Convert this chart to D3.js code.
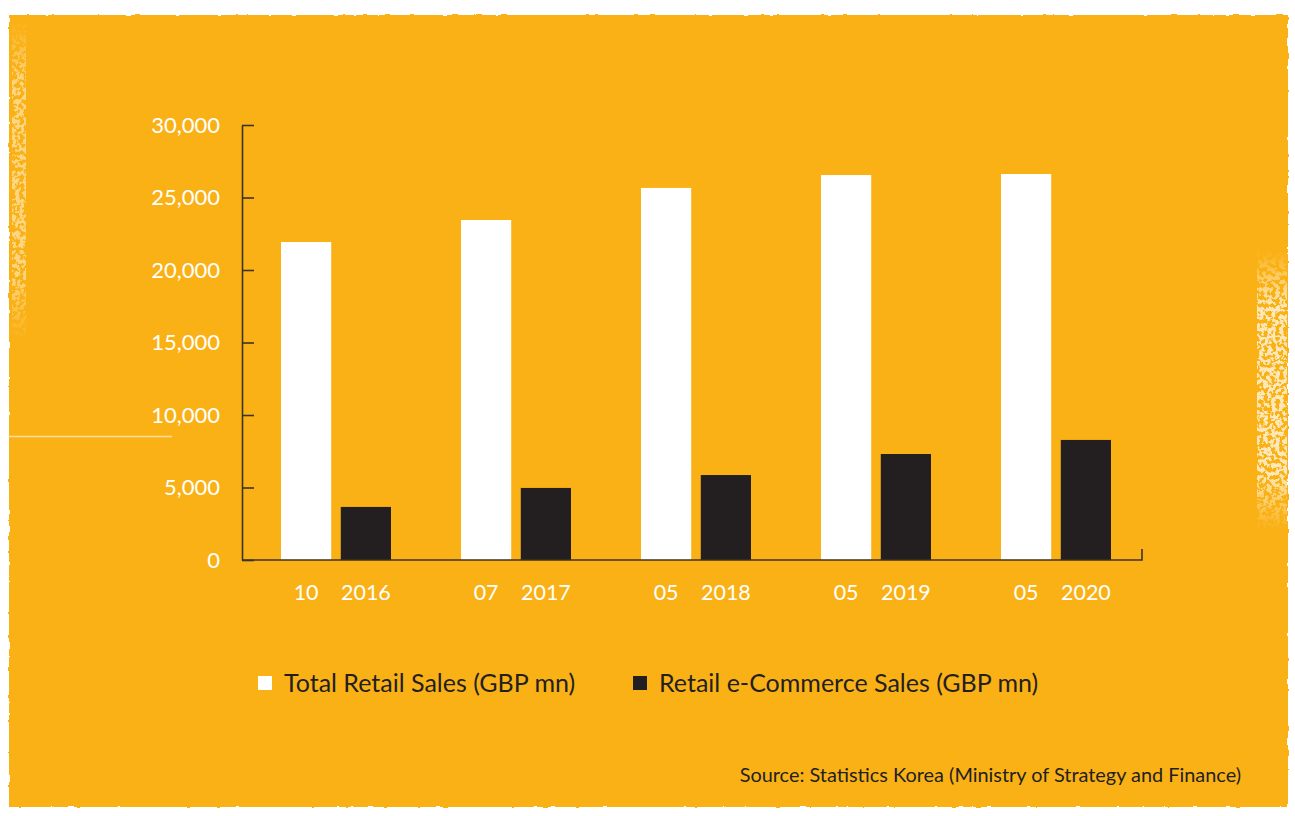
<!DOCTYPE html>
<html>
<head>
<meta charset="utf-8">
<script src="https://cdn.jsdelivr.net/npm/d3@7"></script>
<style>
  html, body { margin: 0; padding: 0; background: #ffffff; }
  svg { display: block; }
  text { font-family: Lato, "Open Sans", sans-serif; }
</style>
</head>
<body>
<svg id="chart" width="1295" height="816"></svg>
<script>
// Monthly retail sales, GBP million
const years = ["2016", "2017", "2018", "2019", "2020"];
const months = ["10", "07", "05", "05", "05"];
const totalRetail = [21930, 23450, 25660, 26550, 26620];
const eCommerce = [3660, 4970, 5860, 7310, 8280];
const yTicks = [0, 5000, 10000, 15000, 20000, 25000, 30000];
const seriesNames = ["Total Retail Sales (GBP mn)", "Retail e-Commerce Sales (GBP mn)"];
const sourceNote = "Source: Statistics Korea (Ministry of Strategy and Finance)";

const ORANGE = "#fab118";
const DARK = "#231f20";
const AXIS = "#3d3322";

const svg = d3.select("#chart");

// Paper card with slightly rough edges
const defs = svg.append("defs");
const rough = defs.append("filter").attr("id", "rough")
  .attr("x", "-2%").attr("y", "-2%").attr("width", "104%").attr("height", "104%");
rough.append("feTurbulence").attr("type", "fractalNoise")
  .attr("baseFrequency", 0.12).attr("numOctaves", 2).attr("seed", 7).attr("result", "noise");
rough.append("feDisplacementMap").attr("in", "SourceGraphic").attr("in2", "noise")
  .attr("scale", 3).attr("xChannelSelector", "R").attr("yChannelSelector", "G");

// sparse pale flecks of worn paint
const speck = defs.append("filter").attr("id", "speck");
speck.append("feTurbulence").attr("type", "fractalNoise")
  .attr("baseFrequency", 0.25).attr("numOctaves", 2).attr("seed", 3).attr("result", "n");
speck.append("feColorMatrix").attr("in", "n").attr("type", "matrix")
  .attr("values", "0 0 0 0 1  0 0 0 0 0.97  0 0 0 0 0.88  0 0 0 -14 7.6").attr("result", "spots");
speck.append("feComposite").attr("in", "spots").attr("in2", "SourceGraphic").attr("operator", "in");

// fade masks so the worn strips blend into the card
const fadeV = defs.append("linearGradient").attr("id", "fadeV")
  .attr("x1", 0).attr("y1", 0).attr("x2", 0).attr("y2", 1);
[[0, 0], [0.2, 1], [0.8, 1], [1, 0]].forEach(([o, a]) =>
  fadeV.append("stop").attr("offset", o).attr("stop-color", "#fff").attr("stop-opacity", a));
const fadeH = defs.append("linearGradient").attr("id", "fadeH")
  .attr("x1", 0).attr("y1", 0).attr("x2", 1).attr("y2", 0);
[[0, 0], [0.7, 0.6], [1, 1]].forEach(([o, a]) =>
  fadeH.append("stop").attr("offset", o).attr("stop-color", "#fff").attr("stop-opacity", a));

const maskL = defs.append("mask").attr("id", "maskL");
maskL.append("rect").attr("x", 10).attr("y", 20).attr("width", 18).attr("height", 320).attr("fill", "url(#fadeV)");
const maskR = defs.append("mask").attr("id", "maskR");
maskR.append("rect").attr("x", 1255).attr("y", 250).attr("width", 32).attr("height", 280).attr("fill", "url(#fadeV)");

svg.append("rect")
  .attr("x", 9).attr("y", 15).attr("width", 1279).attr("height", 792)
  .attr("fill", ORANGE).attr("filter", "url(#rough)");

// worn strips along the left and right borders
svg.append("g").attr("mask", "url(#maskL)")
  .append("rect").attr("x", 12).attr("y", 20).attr("width", 14).attr("height", 320)
  .attr("fill", ORANGE).attr("filter", "url(#speck)").attr("opacity", 0.5);
svg.append("g").attr("mask", "url(#maskR)")
  .append("rect").attr("x", 1257).attr("y", 250).attr("width", 30).attr("height", 280)
  .attr("fill", ORANGE).attr("filter", "url(#speck)").attr("opacity", 0.75);

// crease across the left side
svg.append("line")
  .attr("x1", 8).attr("x2", 172).attr("y1", 436.5).attr("y2", 436.5)
  .attr("stroke", "#fff3d6").attr("stroke-width", 1.4).attr("opacity", 0.7);

// Scales
const plotLeft = 242, plotRight = 1142, plotTop = 125, plotBottom = 560;

const y = d3.scaleLinear().domain([0, 30000]).range([plotBottom, plotTop]);
const x0 = d3.scaleBand().domain(years).range([plotLeft, plotRight]).padding(0);
const x1 = d3.scaleBand().domain(["total", "ecom"]).range([39, 149]).paddingInner(0.16);

// Y axis with inward ticks
const yAxis = d3.axisLeft(y)
  .tickValues(yTicks)
  .tickSizeInner(-12)
  .tickSizeOuter(0)
  .tickPadding(22)
  .tickFormat(d3.format(","));

const gy = svg.append("g").attr("transform", `translate(${plotLeft},0)`).call(yAxis);
gy.select(".domain").attr("stroke", AXIS).attr("stroke-width", 1.6);
gy.selectAll(".tick line").attr("stroke", AXIS).attr("stroke-width", 1.6);
gy.selectAll(".tick text")
  .attr("fill", "#ffffff").attr("font-size", 22).attr("font-family", "Lato, sans-serif");

// Bars
const groups = svg.append("g").selectAll("g")
  .data(years.map((yr, i) => ({ yr, month: months[i], total: totalRetail[i], ecom: eCommerce[i] })))
  .join("g")
  .attr("transform", d => `translate(${x0(d.yr)},0)`);

groups.append("rect")
  .attr("x", x1("total")).attr("width", x1.bandwidth())
  .attr("y", d => y(d.total)).attr("height", d => y(0) - y(d.total))
  .attr("fill", "#ffffff");

groups.append("rect")
  .attr("x", x1("ecom")).attr("width", x1.bandwidth())
  .attr("y", d => y(d.ecom)).attr("height", d => y(0) - y(d.ecom))
  .attr("fill", DARK);

// Category labels: month under the first bar, year under the second
groups.append("text")
  .attr("x", x1("total") + x1.bandwidth() / 2).attr("y", 600)
  .attr("text-anchor", "middle").attr("fill", "#ffffff").attr("font-size", 21.5)
  .text(d => d.month);
groups.append("text")
  .attr("x", x1("ecom") + x1.bandwidth() / 2).attr("y", 600)
  .attr("text-anchor", "middle").attr("fill", "#ffffff").attr("font-size", 21.5)
  .text(d => d.yr);

// X axis baseline with an end tick
svg.append("path")
  .attr("d", `M${plotLeft},${y(0)}H${plotRight}V${y(0) - 11}`)
  .attr("fill", "none").attr("stroke", AXIS).attr("stroke-width", 1.6);

// Legend
const legend = svg.append("g");
const legendItems = [
  { name: seriesNames[0], color: "#ffffff", x: 258 },
  { name: seriesNames[1], color: DARK, x: 633 }
];
legendItems.forEach(it => {
  legend.append("rect").attr("x", it.x).attr("y", 676).attr("width", 14).attr("height", 14)
    .attr("fill", it.color);
  legend.append("text").attr("x", it.x + 26).attr("y", 692)
    .attr("fill", DARK).attr("font-size", 25).text(it.name);
});

// Source note
svg.append("text")
  .attr("x", 1241).attr("y", 782).attr("text-anchor", "end")
  .attr("fill", DARK).attr("font-size", 19.9).text(sourceNote);
</script>
</body>
</html>
